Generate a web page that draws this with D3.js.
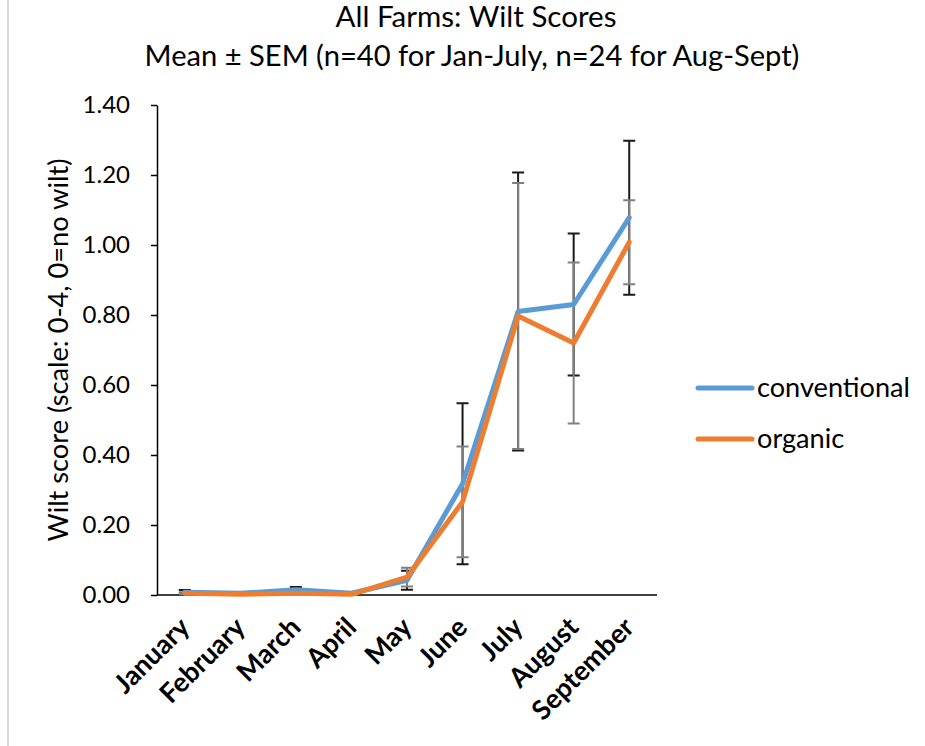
<!DOCTYPE html>
<html>
<head>
<meta charset="utf-8">
<script src="https://cdn.jsdelivr.net/npm/d3@7"></script>
<style>
  html, body { margin: 0; padding: 0; background: #fff; }
  svg { display: block; }
  text { font-family: Lato, "Open Sans", sans-serif; fill: #000; }
</style>
</head>
<body>
<svg id="chart" width="925" height="746"></svg>
<script>
// ---- data ----
const months = ["January", "February", "March", "April", "May", "June", "July", "August", "September"];
const conventional = [0.008, 0.005, 0.015, 0.005, 0.042, 0.318, 0.810, 0.830, 1.078];
const conventionalSEM = [0.006, 0.003, 0.008, 0.003, 0.027, 0.230, 0.397, 0.203, 0.220];
const organic = [0.005, 0.002, 0.005, 0.002, 0.051, 0.266, 0.797, 0.720, 1.008];
const organicSEM = [0.003, 0.002, 0.003, 0.002, 0.027, 0.158, 0.380, 0.230, 0.120];
const yTicks = [0, 0.2, 0.4, 0.6, 0.8, 1.0, 1.2, 1.4];
const seriesNames = ["conventional", "organic"];
const titleLines = ["All Farms: Wilt Scores", "Mean \u00B1 SEM (n=40 for Jan-July, n=24 for Aug-Sept)"];
const yTitle = "Wilt score (scale: 0-4, 0=no wilt)";

// ---- layout ----
const svg = d3.select("#chart");
const plot = { left: 157, right: 657, top: 105, bottom: 595 };
const colors = { conventional: "#5B9BD5", organic: "#ED7D31" };
const errColors = { conventional: "#1a1a1a", organic: "#808080" };

function fitWidth(sel, target) {
  const fs = parseFloat(sel.attr("font-size"));
  const w = sel.node().getComputedTextLength();
  if (w > 0) sel.attr("font-size", fs * target / w);
}

const x = d3.scalePoint().domain(months).range([plot.left, plot.right]).padding(0.5);
const y = d3.scaleLinear().domain([0, 1.4]).range([plot.bottom, plot.top]);

// light border line at left
svg.append("line").attr("x1", 8).attr("x2", 8).attr("y1", 0).attr("y2", 746)
  .attr("stroke", "#d9d9d9").attr("stroke-width", 2);

// title
const t1 = svg.append("text").attr("x", 476).attr("y", 27).attr("text-anchor", "middle")
  .attr("font-size", 24).text(titleLines[0]);
fitWidth(t1, 281);
const t2 = svg.append("text").attr("x", 472).attr("y", 66).attr("text-anchor", "middle")
  .attr("font-size", 26).text(titleLines[1]);
fitWidth(t2, 655);

// y axis
const yAxis = d3.axisLeft(y).tickValues(yTicks).tickFormat(d3.format(".2f"))
  .tickSize(6).tickSizeOuter(0).tickPadding(21);
const gy = svg.append("g").attr("transform", `translate(${plot.left},0)`).call(yAxis);
gy.select(".domain").attr("stroke", "#000").attr("stroke-width", 1.5);
gy.selectAll(".tick line").attr("stroke", "#000").attr("stroke-width", 1.5);
gy.selectAll(".tick text").attr("font-size", 24).attr("font-family", "Lato").attr("fill", "#000");

// x axis
const xAxis = d3.axisBottom(x).tickSize(0).tickSizeOuter(0).tickPadding(0);
const gx = svg.append("g").attr("transform", `translate(0,${plot.bottom})`).call(xAxis);
gx.select(".domain").attr("d", `M${plot.left},0H${plot.right}`).attr("stroke", "#000").attr("stroke-width", 1.5);
gx.selectAll(".tick text")
  .attr("font-size", 27).attr("font-weight", "bold").attr("font-family", "Lato").attr("fill", "#000")
  .attr("text-anchor", "end").attr("dy", null).attr("y", null)
  .attr("transform", "translate(6,34) rotate(-45)");

// y title
const yt = svg.append("text").attr("text-anchor", "middle")
  .attr("transform", `translate(68,${(plot.top + plot.bottom) / 2}) rotate(-90)`)
  .attr("font-size", 24).text(yTitle);
fitWidth(yt, 383);

// error bars
const series = [
  { name: "conventional", values: conventional, sem: conventionalSEM },
  { name: "organic", values: organic, sem: organicSEM }
];
const capW = 6;
series.forEach(s => {
  const g = svg.append("g").attr("stroke", errColors[s.name]).attr("stroke-width", 2).attr("fill", "none");
  months.forEach((m, i) => {
    const cx = x(m), hi = y(s.values[i] + s.sem[i]), lo = y(Math.max(0, s.values[i] - s.sem[i]));
    g.append("path").attr("d", `M${cx},${hi}V${lo}M${cx - capW},${hi}H${cx + capW}M${cx - capW},${lo}H${cx + capW}`);
  });
});

// lines
const line = d3.line().x((d, i) => x(months[i])).y(d => y(d));
series.forEach(s => {
  svg.append("path").datum(s.values).attr("d", line)
    .attr("fill", "none").attr("stroke", colors[s.name]).attr("stroke-width", 5)
    .attr("stroke-linejoin", "round").attr("stroke-linecap", "round");
});

// legend
const legendY = [388, 439];
const legTexts = [];
seriesNames.forEach((n, i) => {
  svg.append("line").attr("x1", 698).attr("x2", 752).attr("y1", legendY[i]).attr("y2", legendY[i])
    .attr("stroke", colors[n]).attr("stroke-width", 5).attr("stroke-linecap", "round");
  legTexts.push(svg.append("text").attr("x", 757).attr("y", legendY[i]).attr("dy", "0.35em")
    .attr("font-size", 24).text(n));
});
fitWidth(legTexts[0], 153);
legTexts[1].attr("font-size", legTexts[0].attr("font-size"));
</script>
</body>
</html>
